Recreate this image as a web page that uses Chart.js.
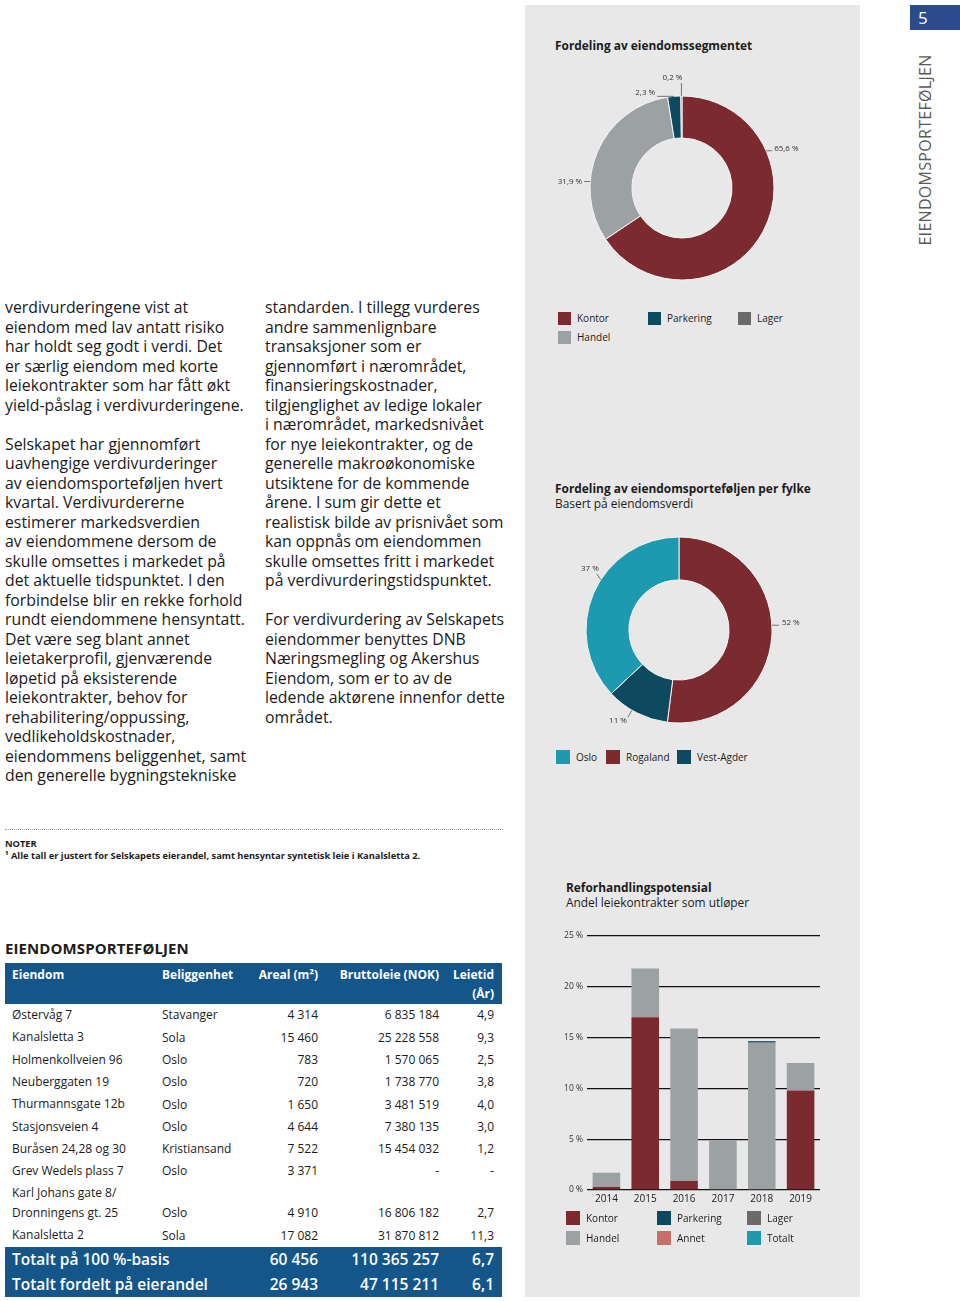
<!DOCTYPE html>
<html lang="no">
<head>
<meta charset="UTF-8">
<title>Eiendomsporteføljen</title>
<script src="https://cdn.jsdelivr.net/npm/chart.js@4"></script>
<style>
  body { margin:0; width:960px; height:1301px; position:relative; overflow:hidden;
         background:#fff; font-family:"Open Sans", sans-serif; color:#1c1c1c; }
  .abs { position:absolute; }
  #panel { left:525px; top:5px; width:335px; height:1292px; background:#e8e8e8; }
  #pageno { left:910px; top:5px; width:50px; height:25px; background:#2b4b8c; color:#fff;
            font-size:17px; line-height:25px; text-indent:8px; }
  #vtitle { left:925px; top:150px; transform:translate(-50%,-50%) rotate(-90deg);
            font-size:16px; letter-spacing:0.3px; color:#5a5a5a; white-space:nowrap; }
  .body { font-size:15.8px; line-height:19.5px; white-space:pre; color:#1a1a1a; }
  .ttl { font-size:11.9px; line-height:15px; white-space:nowrap; }
  .ttl b { font-weight:700; }
  .leg { font-size:10px; white-space:nowrap; }
  .sq { position:absolute; }
  canvas { position:absolute; }
  #dots { left:5px; top:829px; width:498px; border-top:1px dotted #999; }
  .note { font-size:9.3px; font-weight:700; white-space:nowrap; line-height:12px; }
  #tblhead { left:5px; top:938px; font-size:15px; font-weight:700; letter-spacing:0.1px; }
  .hdr { left:5px; top:963px; width:497px; height:41px; background:#14568a; }
  .tot { left:5px; top:1247px; width:497px; height:50px; background:#14568a; }
  .cell { position:absolute; white-space:pre; }
</style>
</head>
<body>
<div class="abs" id="panel"></div>
<div class="abs" id="pageno">5</div>
<div class="abs" id="vtitle">EIENDOMSPORTEFØLJEN</div>

<div class="abs body" style="left:5px;top:298px">verdivurderingene vist at
eiendom med lav antatt risiko
har holdt seg godt i verdi. Det
er særlig eiendom med korte
leiekontrakter som har fått økt
yield-påslag i verdivurderingene.

Selskapet har gjennomført
uavhengige verdivurderinger
av eiendomsporteføljen hvert
kvartal. Verdivurdererne
estimerer markedsverdien
av eiendommene dersom de
skulle omsettes i markedet på
det aktuelle tidspunktet. I den
forbindelse blir en rekke forhold
rundt eiendommene hensyntatt.
Det være seg blant annet
leietakerprofil, gjenværende
løpetid på eksisterende
leiekontrakter, behov for
rehabilitering/oppussing,
vedlikeholdskostnader,
eiendommens beliggenhet, samt
den generelle bygningstekniske</div>

<div class="abs body" style="left:265px;top:298px">standarden. I tillegg vurderes
andre sammenlignbare
transaksjoner som er
gjennomført i nærområdet,
finansieringskostnader,
tilgjenglighet av ledige lokaler
i nærområdet, markedsnivået
for nye leiekontrakter, og de
generelle makroøkonomiske
utsiktene for de kommende
årene. I sum gir dette et
realistisk bilde av prisnivået som
kan oppnås om eiendommen
skulle omsettes fritt i markedet
på verdivurderingstidspunktet.

For verdivurdering av Selskapets
eiendommer benyttes DNB
Næringsmegling og Akershus
Eiendom, som er to av de
ledende aktørene innenfor dette
området.</div>

<div class="abs" id="dots"></div>
<div class="abs note" style="left:5px;top:838px">NOTER</div>
<div class="abs note" style="left:5px;top:850px">¹ Alle tall er justert for Selskapets eierandel, samt hensyntar syntetisk leie i Kanalsletta 2.</div>

<div class="abs ttl" style="left:555px;top:38px"><b>Fordeling av eiendomssegmentet</b></div>
<div class="abs ttl" style="left:555px;top:481px"><b>Fordeling av eiendomsporteføljen per fylke</b><br>Basert på eiendomsverdi</div>
<div class="abs ttl" style="left:566px;top:880px"><b>Reforhandlingspotensial</b><br>Andel leiekontrakter som utløper</div>

<canvas id="seg" width="290" height="220" style="left:540px;top:70px"></canvas>
<canvas id="fylke" width="270" height="215" style="left:550px;top:520px"></canvas>
<canvas id="reforh" width="280" height="290" style="left:550px;top:925px"></canvas>

<div class="abs" id="tblhead">EIENDOMSPORTEFØLJEN</div>
<div class="abs hdr"></div>
<div class="abs tot"></div>
<div id="table"></div>

<script>
// Fordeling av eiendomssegmentet
const segLabels = ['Kontor', 'Handel', 'Parkering', 'Lager'];
const segValues = [65.6, 31.9, 2.3, 0.2];
const segColors = ['#7b2a30', '#9ca1a4', '#0d4a5f', '#6a6a6a'];

// Fordeling per fylke
const fylkeLabels = ['Rogaland', 'Vest-Agder', 'Oslo'];
const fylkeValues = [52, 11, 37];
const fylkeColors = ['#7b2a30', '#0d4a5f', '#1d9ab0'];

// Reforhandlingspotensial (% av leiekontrakter)
const years = ['2014', '2015', '2016', '2017', '2018', '2019'];
const kontor    = [0.3, 17.0, 0.9, 0, 0, 9.8];
const handel    = [1.4, 4.8, 15.0, 4.9, 14.5, 2.7];
const parkering = [0, 0, 0, 0, 0.15, 0];
const lager     = [0, 0, 0, 0, 0, 0];
const annet     = [0, 0, 0, 0, 0, 0];
const totalt    = [0, 0, 0, 0, 0, 0];
const yTicks = [0, 5, 10, 15, 20, 25];

// tabell
const eiendom = ['Østervåg 7', 'Kanalsletta 3', 'Holmenkollveien 96', 'Neuberggaten 19', 'Thurmannsgate 12b',
  'Stasjonsveien 4', 'Buråsen 24,28 og 30', 'Grev Wedels plass 7', 'Karl Johans gate 8/\nDronningens gt. 25', 'Kanalsletta 2'];
const beliggenhet = ['Stavanger', 'Sola', 'Oslo', 'Oslo', 'Oslo', 'Oslo', 'Kristiansand', 'Oslo', 'Oslo', 'Sola'];
const areal = ['4 314', '15 460', '783', '720', '1 650', '4 644', '7 522', '3 371', '4 910', '17 082'];
const bruttoleie = ['6 835 184', '25 228 558', '1 570 065', '1 738 770', '3 481 519', '7 380 135', '15 454 032', '-', '16 806 182', '31 870 812'];
const leietid = ['4,9', '9,3', '2,5', '3,8', '4,0', '3,0', '1,2', '-', '2,7', '11,3'];
const totalLabels = ['Totalt på 100 %-basis', 'Totalt fordelt på eierandel'];
const totalAreal = ['60 456', '26 943'];
const totalLeie = ['110 365 257', '47 115 211'];
const totalTid = ['6,7', '6,1'];

Chart.defaults.font.family = '"Open Sans", sans-serif';
Chart.defaults.color = '#222';
Chart.defaults.animation = false;

const fmt = v => String(v).replace('.', ',');

const donutLabels = {
  id: 'donutLabels',
  afterDatasetsDraw(chart, args, opts) {
    const ctx = chart.ctx;
    const meta = chart.getDatasetMeta(0);
    const data = chart.data.datasets[0].data;
    ctx.save();
    ctx.font = '8px "Open Sans"';
    ctx.fillStyle = '#333';
    ctx.strokeStyle = '#555';
    ctx.lineWidth = 0.8;
    meta.data.forEach((arc, i) => {
      const s = opts.spots[i];
      const a = arc.startAngle + s.f * (arc.endAngle - arc.startAngle);
      const x0 = arc.x + Math.cos(a) * arc.outerRadius;
      const y0 = arc.y + Math.sin(a) * arc.outerRadius;
      const x1 = x0 + s.dx, y1 = y0 + s.dy;
      ctx.beginPath();
      ctx.moveTo(x0, y0);
      ctx.lineTo(x1, y1);
      ctx.stroke();
      ctx.textAlign = s.align;
      ctx.textBaseline = 'middle';
      ctx.fillText(fmt(data[i]) + ' %', x1 + s.tx, y1 + s.ty);
    });
    ctx.restore();
  }
};

function legend(labels, colors, spots, size) {
  labels.forEach((lab, i) => {
    const [x, y] = spots[i];
    const sq = document.createElement('div');
    sq.className = 'sq';
    sq.style.cssText = `left:${x}px;top:${y}px;width:${size}px;height:${size}px;background:${colors[i]}`;
    document.body.appendChild(sq);
    const t = document.createElement('div');
    t.className = 'abs leg';
    t.style.cssText = `left:${x + size + 6}px;top:${y}px;line-height:${size}px`;
    t.textContent = lab;
    document.body.appendChild(t);
  });
}

new Chart(document.getElementById('seg'), {
  type: 'doughnut',
  data: { labels: segLabels, datasets: [{ data: segValues, backgroundColor: segColors,
    borderColor: '#f4f4f4', borderWidth: 1 }] },
  options: {
    responsive: false, radius: 92, cutout: 53,
    layout: { padding: { left: 40, right: 46, top: 20, bottom: 4 } },
    plugins: {
      legend: { display: false }, tooltip: { enabled: false },
      donutLabels: { spots: [
        { f: 0.28, dx: 6, dy: 0, align: 'left', tx: 2, ty: -2 },
        { f: 0.33, dx: -6, dy: 0, align: 'right', tx: -2, ty: 0 },
        { f: 0.5, dx: -17, dy: 0, align: 'right', tx: -2, ty: -4 },
        { f: 0.5, dx: 0, dy: -13, align: 'right', tx: 1, ty: -5 }
      ] }
    }
  },
  plugins: [donutLabels]
});
legend(segLabels, segColors, [[558, 312], [558, 331], [648, 312], [738, 312]], 13);

new Chart(document.getElementById('fylke'), {
  type: 'doughnut',
  data: { labels: fylkeLabels, datasets: [{ data: fylkeValues, backgroundColor: fylkeColors,
    borderColor: '#f4f4f4', borderWidth: 1 }] },
  options: {
    responsive: false, radius: 93, cutout: 53,
    layout: { padding: { left: 30, right: 42, top: 10, bottom: 5 } },
    plugins: {
      legend: { display: false }, tooltip: { enabled: false },
      donutLabels: { spots: [
        { f: 0.465, dx: 7, dy: 0, align: 'left', tx: 3, ty: -2 },
        { f: 0.586, dx: -4, dy: 7, align: 'right', tx: -1, ty: 4 },
        { f: 0.57, dx: -4, dy: -6, align: 'right', tx: 2, ty: -5 }
      ] }
    }
  },
  plugins: [donutLabels]
});
legend(fylkeLabels, fylkeColors, [[606, 750], [677, 750], [556, 750]], 14);

const barLabels = ['Kontor', 'Handel', 'Parkering', 'Lager', 'Annet', 'Totalt'];
const barColors = ['#7b2a30', '#9ca1a4', '#0d4a5f', '#6a6a6a', '#c96e69', '#1d9ab0'];
const barSeries = [kontor, handel, parkering, lager, annet, totalt];

new Chart(document.getElementById('reforh'), {
  type: 'bar',
  data: {
    labels: years,
    datasets: barSeries.map((d, i) => ({ label: barLabels[i], data: d, backgroundColor: barColors[i],
      barPercentage: 0.71, categoryPercentage: 1 }))
  },
  options: {
    responsive: false,
    layout: { padding: { left: 0, right: 10, top: 11, bottom: 0 } },
    plugins: { legend: { display: false }, tooltip: { enabled: false } },
    scales: {
      x: {
        stacked: true,
        grid: { display: false, drawTicks: false }, border: { display: false },
        ticks: { padding: 3, font: { size: 10 }, color: '#222' },
        afterFit: s => { s.height = 25; }
      },
      y: {
        stacked: true, min: 0, max: 25,
        afterBuildTicks: s => { s.ticks = yTicks.map(v => ({ value: v })); },
        grid: { color: '#111', lineWidth: 1.3, drawTicks: false }, border: { display: false },
        ticks: { padding: 4, font: { size: 8.5 }, color: '#333', callback: v => v + ' %' },
        afterFit: s => { s.width = 37; }
      }
    }
  }
});
legend(barLabels, barColors, [[566, 1211], [566, 1231], [657, 1211], [747, 1211], [657, 1231], [747, 1231]], 14);

// tabell
const tbl = document.getElementById('table');
function cell(text, x, y, align, style) {
  const d = document.createElement('div');
  d.className = 'cell';
  d.textContent = text;
  d.style.cssText = (align === 'right' ? `right:${960 - x}px;text-align:right;` : `left:${x}px;`) +
    `top:${y}px;` + style;
  tbl.appendChild(d);
}
const hs = 'font-size:12px;font-weight:700;color:#fff;line-height:19px;';
cell('Eiendom', 12, 965, 'left', hs);
cell('Beliggenhet', 162, 965, 'left', hs);
cell('Areal (m²)', 318, 965, 'right', hs);
cell('Bruttoleie (NOK)', 439, 965, 'right', hs);
cell('Leietid\n(År)', 494, 965, 'right', hs);

const rs = 'font-size:12px;color:#1a1a1a;line-height:20.5px;';
let y = 1004.5;
eiendom.forEach((e, i) => {
  const lines = e.split('\n').length;
  const h = lines > 1 ? 42 : 22.3;
  const base = y + h - 21.5;
  cell(e, 12, y + (lines > 1 ? 0 : 0.5), 'left', rs);
  cell(beliggenhet[i], 162, base, 'left', rs);
  cell(areal[i], 318, base, 'right', rs);
  cell(bruttoleie[i], 439, base, 'right', rs);
  cell(leietid[i], 494, base, 'right', rs);
  y += h;
});

const ts = 'font-size:15.5px;font-weight:600;color:#fff;line-height:25px;';
totalLabels.forEach((t, i) => {
  const ty = 1247 + i * 25;
  cell(t, 12, ty, 'left', ts);
  cell(totalAreal[i], 318, ty, 'right', ts);
  cell(totalLeie[i], 439, ty, 'right', ts);
  cell(totalTid[i], 494, ty, 'right', ts);
});
</script>
</body>
</html>
